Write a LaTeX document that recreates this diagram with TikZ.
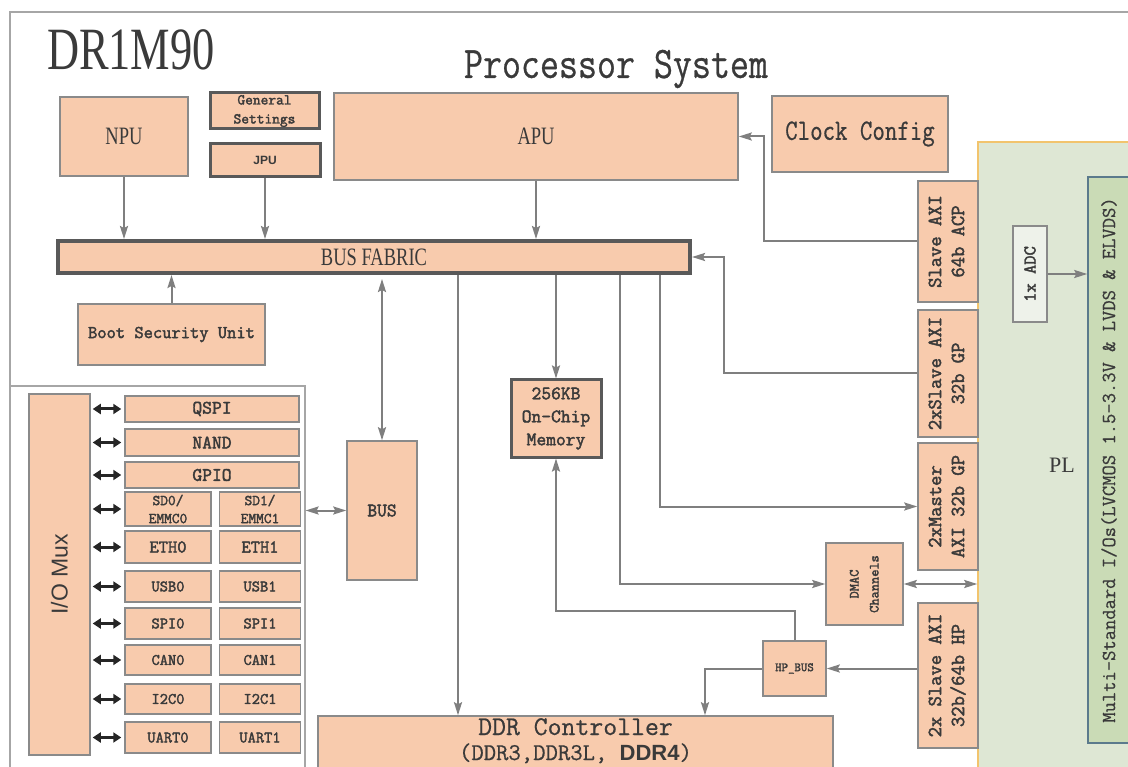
\documentclass[tikz,border=0pt]{standalone}
\usepackage{fontspec,graphicx}
\setmainfont{Liberation Serif}
\setsansfont{Liberation Sans}
\setmonofont[BoldFont=Latin Modern Mono,BoldFeatures={FakeBold=2.2}]{Latin Modern Mono}
\newfontfamily\condserif[FakeStretch=0.74]{Liberation Serif}
\newfontfamily\narrowmono[FakeStretch=0.82,FakeBold=0.6]{Latin Modern Mono}
\newfontfamily\midmono[FakeBold=0.6]{Latin Modern Mono}
\usetikzlibrary{arrows.meta,positioning}
\definecolor{peach}{HTML}{F8CBAD}
\definecolor{boxgray}{HTML}{8A8A8A}
\definecolor{darkrim}{HTML}{595959}
\definecolor{wiregray}{HTML}{7F7F7F}
\definecolor{framegray}{HTML}{A6A6A6}
\definecolor{ink}{HTML}{3A3A3A}
\definecolor{plgreen}{HTML}{DEE7D4}
\definecolor{plrim}{HTML}{F2C46D}
\definecolor{miogreen}{HTML}{CADBB6}
\definecolor{miorim}{HTML}{5B7A8C}
\definecolor{adcfill}{HTML}{EEF2EA}
\newcommand\pxfont[2]{\fontsize{#1}{#2}\selectfont}
\newcommand\uptext[1]{\rotatebox{90}{\begin{tabular}{@{}c@{}}#1\end{tabular}}}

\begin{document}
\begin{tikzpicture}[x=1pt,y=-1pt,>={Stealth[length=13pt,width=8pt,inset=2pt]},
  blk/.style={draw=boxgray,line width=1.5pt,fill=peach,inner sep=0pt,text=ink,align=center},
  heavy/.style={blk,draw=darkrim,line width=3pt},
  sz/.style 2 args={minimum width=#1pt,minimum height=#2pt},
  cell/.style={blk,font=\ttfamily\bfseries\pxfont{16}{19}},
  axi/.style={blk,font=\ttfamily\bfseries\pxfont{20}{23}},
  wire/.style={draw=wiregray,line width=2pt},
  iolink/.style={draw=black!85,line width=3pt,{Triangle[length=8pt,width=10pt]}-{Triangle[length=8pt,width=10pt]},shorten <=2pt,shorten >=3pt}]
\clip (0,0) rectangle (1128,767);
\draw[framegray,line width=1.5pt] (10,12) rectangle (1150,800);
\node[font=\condserif\pxfont{60}{60},text=ink] (chip) at (131,50) {DR1M90};
\node[font=\narrowmono\pxfont{45}{45},text=ink] (ps) at (616,69) {Processor System};

% top row
\node[blk,sz={128}{79},font=\condserif\pxfont{25}{25}] (npu) at (124,136.5) {NPU};
\node[heavy,sz={109}{36},font=\ttfamily\bfseries\pxfont{15}{19}] (gen) at (264.5,111) {General\\Settings};
\node[heavy,sz={110}{33},font=\sffamily\bfseries\pxfont{12}{12}] (jpu) at (265,160.5) {JPU};
\node[blk,sz={404}{87},font=\condserif\pxfont{25}{25}] (apu) at (536,136.5) {APU};
\node[blk,sz={176}{76},font=\narrowmono\pxfont{29.5}{30}] (clk) at (860,134) {Clock Config};
\node[heavy,line width=4pt,sz={632}{32},font=\condserif\pxfont{25}{25}] (fabric) at (374,257) {BUS FABRIC};
\node[blk,sz={187}{61},font=\ttfamily\bfseries\pxfont{18}{18}] (boot) at (171.5,334.5) {Boot Security Unit};

% I/O side
\node[draw=framegray,line width=1.2pt,minimum width=295pt,minimum height=414pt,inner sep=0pt] (iopanel) at (157.5,593) {};
\node[blk,sz={61}{361},font=\sffamily\pxfont{23}{23}] (mux) at (59.5,574.5) {\rotatebox{90}{I/O Mux}};
\node[cell,sz={174}{26},font=\ttfamily\bfseries\pxfont{19}{19}] (qspi) at (212,409) {QSPI};
\node[cell,sz={174}{27},font=\ttfamily\bfseries\pxfont{19}{19}] (nand) at (212,442.5) {NAND};
\node[cell,sz={174}{26},font=\ttfamily\bfseries\pxfont{19}{19}] (gpio) at (212,475) {GPIO};
\node[cell,sz={86}{34},font=\ttfamily\bfseries\pxfont{15}{18}] (sd0) at (168,509) {SD0/\\EMMC0};
\node[cell,sz={81}{34},font=\ttfamily\bfseries\pxfont{15}{18},right=7pt of sd0] (sd1) {SD1/\\EMMC1};
\node[cell,sz={86}{32},font=\ttfamily\bfseries\pxfont{18}{18}] (eth0) at (168,547) {ETH0};
\node[cell,sz={81}{32},font=\ttfamily\bfseries\pxfont{18}{18},right=7pt of eth0] (eth1) {ETH1};
\node[cell,sz={86}{31}] (usb0) at (168,586.5) {USB0};
\node[cell,sz={81}{31},right=7pt of usb0] (usb1) {USB1};
\node[cell,sz={86}{31}] (spi0) at (168,623.5) {SPI0};
\node[cell,sz={81}{31},right=7pt of spi0] (spi1) {SPI1};
\node[cell,sz={86}{30}] (can0) at (168,660) {CAN0};
\node[cell,sz={81}{30},right=7pt of can0] (can1) {CAN1};
\node[cell,sz={86}{30}] (i2c0) at (168,699) {I2C0};
\node[cell,sz={81}{30},right=7pt of i2c0] (i2c1) {I2C1};
\node[cell,sz={86}{31}] (uart0) at (168,737.5) {UART0};
\node[cell,sz={81}{31},right=7pt of uart0] (uart1) {UART1};
\draw[iolink] (mux.east |- qspi.west)--(qspi.west); \draw[iolink] (mux.east |- nand.west)--(nand.west); \draw[iolink] (mux.east |- gpio.west)--(gpio.west);
\draw[iolink] (mux.east |- sd0.west)--(sd0.west); \draw[iolink] (mux.east |- eth0.west)--(eth0.west); \draw[iolink] (mux.east |- usb0.west)--(usb0.west);
\draw[iolink] (mux.east |- spi0.west)--(spi0.west); \draw[iolink] (mux.east |- can0.west)--(can0.west); \draw[iolink] (mux.east |- i2c0.west)--(i2c0.west);
\draw[iolink] (mux.east |- uart0.west)--(uart0.west);

% middle
\node[blk,sz={70}{139},font=\ttfamily\bfseries\pxfont{19}{19}] (bus) at (382,510.5) {BUS};
\node[heavy,sz={90}{77},font=\ttfamily\bfseries\pxfont{19}{23}] (mem) at (556,418.5) {256KB\\On-Chip\\Memory};
\node[blk,sz={515}{70},text height=44pt,text depth=26pt,font=\midmono\pxfont{27}{25}] (ddr) at (575.5,751) {DDR Controller\\{\pxfont{24}{25}(DDR3,DDR3L, }{\sffamily\bfseries\pxfont{22}{25}DDR4}{\pxfont{24}{25})}};
\node[blk,sz={63}{55},font=\ttfamily\bfseries\pxfont{12.5}{12}] (hp) at (794.5,668.5) {HP\_BUS};
\node[blk,sz={77}{82},font=\ttfamily\bfseries\pxfont{14}{20}] (dmac) at (864.5,584) {\uptext{DMAC\\Channels}};

% PL side
\node[draw=plrim,line width=1.5pt,fill=plgreen,minimum width=168pt,minimum height=646pt,font=\rmfamily\pxfont{22}{22},text=ink] (pl) at (1062,465) {PL};
\node[draw=miorim,line width=1.5pt,fill=miogreen,minimum width=42pt,minimum height=566pt,inner sep=0pt,font=\midmono\pxfont{20}{20},text=ink] (mio) at (1109,460) {\rotatebox{90}{Multi-Standard I/Os(LVCMOS 1.5-3.3V \& LVDS \& ELVDS)}};
\node[draw=boxgray,line width=1.5pt,fill=adcfill,sz={34}{96},inner sep=0pt,font=\ttfamily\bfseries\pxfont{18}{18},text=ink] (adc) at (1030,274) {\rotatebox{90}{1x ADC}};
\node[axi,sz={60}{121}] (acp) at (948,241.5) {\uptext{Slave AXI\\64b ACP}};
\node[axi,sz={60}{127}] (sgp) at (948,373.5) {\uptext{2xSlave AXI\\32b GP}};
\node[axi,sz={60}{127}] (mgp) at (948,506.5) {\uptext{2xMaster\\AXI 32b GP}};
\node[axi,sz={60}{145}] (hpaxi) at (948,675.5) {\uptext{2x Slave AXI\\32b/64b HP}};

% connectors
\coordinate (tapddr) at ([xshift=84pt]fabric.south);
\coordinate (tapdmac) at ([xshift=246pt]fabric.south);
\coordinate (tapmgp) at ([xshift=286pt]fabric.south);
\draw[wire,->] (npu.south)--(npu.south |- fabric.north); \draw[wire,->] (jpu.south)--(jpu.south |- fabric.north); \draw[wire,->] (apu.south)--(apu.south |- fabric.north);
\draw[wire,->] (boot.north)--(boot.north |- fabric.south); \draw[wire,<->] (bus.north)--([yshift=-4pt]bus.north |- fabric.south);
\draw[wire,->] (mem.north |- fabric.south)--(mem.north); \draw[wire,->] (tapddr)--(tapddr |- ddr.north);
\draw[wire,->] (tapdmac) |- (dmac.west); \draw[wire,->] (tapmgp) |- (mgp.west);
\draw[wire,->] (acp.west) -- ++(-153,0) |- (apu.east);
\draw[wire,->] (sgp.west) -- ++(-193,0) |- (fabric.east);
\draw[wire,->] (hp.north) -- ++(0,-29) -| (mem.south);
\draw[wire,->] (hpaxi.west |- hp.east)--(hp.east); \draw[wire,->] (hp.west) -| ([xshift=129.5pt]ddr.north);
\draw[wire,<->] (dmac.east)--(dmac.east -| pl.west); \draw[wire,->] (adc.east)--(adc.east -| mio.west);
\draw[wire,<->] (iopanel.east |- bus.west)--(bus.west);
\end{tikzpicture}
\end{document}
